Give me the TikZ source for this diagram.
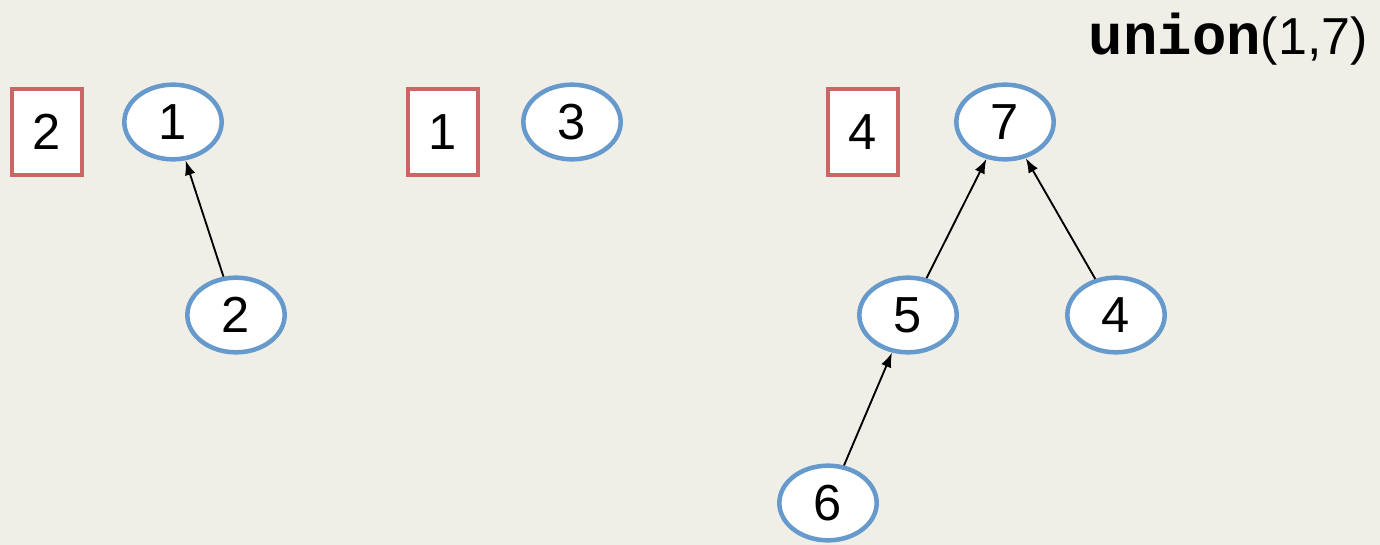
\documentclass[tikz,border=0pt]{standalone}
\usepackage{fontspec}
\setmainfont{Liberation Sans}
\newfontfamily\codefont{Liberation Mono}
\usetikzlibrary{arrows.meta,shapes.geometric}
\definecolor{bgc}{HTML}{F0EFE7}
\definecolor{nodeblue}{HTML}{6699CC}
\definecolor{boxred}{HTML}{CC6666}
\tikzset{
  elem/.style={ellipse, draw=nodeblue, line width=3.4pt, fill=white, minimum width=73pt, minimum height=56pt, inner sep=0pt, font=\fontsize{38}{40}\selectfont},
  sizebox/.style={rectangle, draw=boxred, line width=3.2pt, fill=white, minimum width=53pt, minimum height=65pt, inner sep=0pt, font=\fontsize{38}{40}\selectfont},
  link/.style={line width=1.4pt, -{Latex[length=11pt,width=8pt]}},
}
\begin{document}
\begin{tikzpicture}[x=0.75pt,y=-0.75pt]
\fill[bgc] (0,0) rectangle (1380,545);
\useasboundingbox (0,0) rectangle (1380,545);
\node[anchor=base east, inner sep=0pt] (title) at (1368,55) {{\codefont\bfseries\fontsize{43}{44}\selectfont union}\fontsize{39}{40}\selectfont(1,7)};
\node[sizebox] (s2) at (47,132) {2};
\node[sizebox] (s1) at (443,132) {1};
\node[sizebox] (s4) at (863,132) {4};
\node[elem] (n1) at (173,122) {1};
\node[elem] (n2) at (236,315) {2};
\node[elem] (n3) at (572,122) {3};
\node[elem] (n7) at (1005,122) {7};
\node[elem] (n5) at (908,315) {5};
\node[elem] (n4) at (1116,315) {4};
\node[elem] (n6) at (828,503) {6};
\draw[link] (n2) -- (n1);
\draw[link] (n5) -- (n7);
\draw[link] (n4) -- (n7);
\draw[link] (n6) -- (n5);
\end{tikzpicture}
\end{document}
